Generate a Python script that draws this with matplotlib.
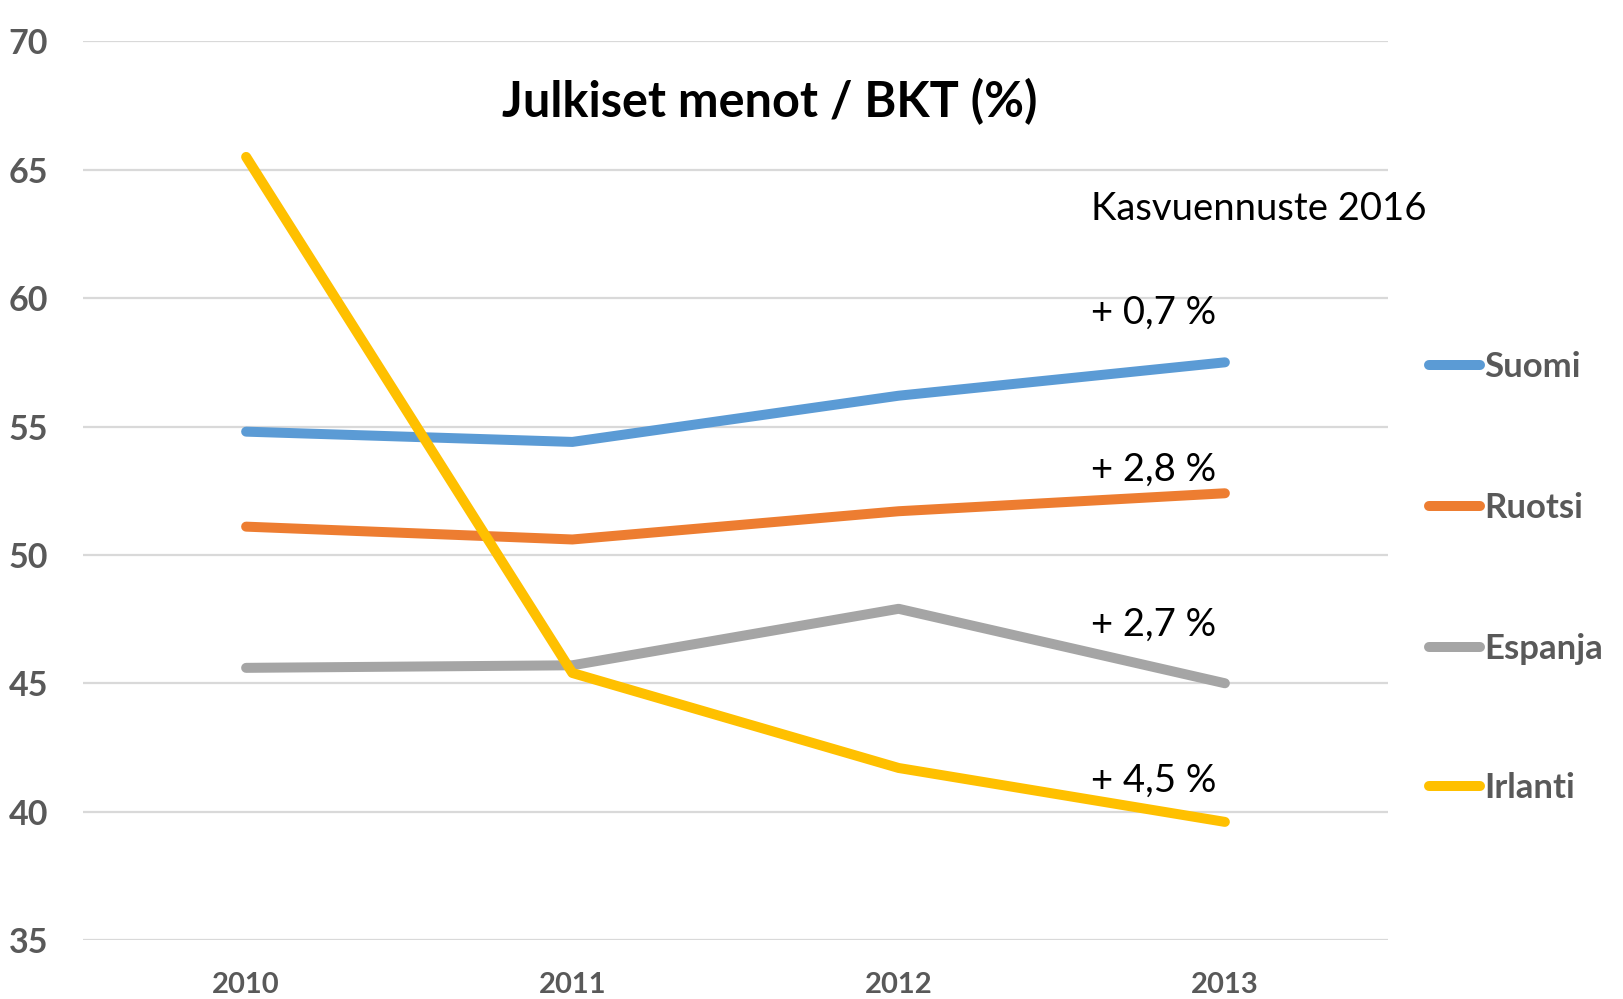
import matplotlib
matplotlib.use("Agg")
import matplotlib.pyplot as plt

plt.rcParams['font.family'] = ['Lato', 'DejaVu Sans']

years = ['2010', '2011', '2012', '2013']
suomi = [54.8, 54.4, 56.2, 57.5]
ruotsi = [51.1, 50.6, 51.7, 52.4]
espanja = [45.6, 45.7, 47.9, 45.0]
irlanti = [65.5, 45.4, 41.7, 39.6]
series_names = ['Suomi', 'Ruotsi', 'Espanja', 'Irlanti']
forecasts = ['+ 0,7 %', '+ 2,8 %', '+ 2,7 %', '+ 4,5 %']
yticks = [35, 40, 45, 50, 55, 60, 65, 70]

colors = ['#5B9BD5', '#ED7D31', '#A5A5A5', '#FFC000']
W, H = 1624, 999
fig = plt.figure(figsize=(W / 100, H / 100), dpi=100)
ax = fig.add_axes([83 / W, 1 - 940 / H, (1388 - 83) / W, (940 - 41.4) / H])

x = list(range(len(years)))
all_series = [suomi, ruotsi, espanja, irlanti]
for s, c in zip(all_series, colors):
    ax.plot(x, s, color=c, lw=7.2, solid_capstyle='round', solid_joinstyle='round', zorder=3)

ax.set_xlim(-0.5, 3.5)
ax.set_ylim(35, 70)
ax.set_yticks(yticks)
ax.set_xticks(x)
ax.set_xticklabels(years)
ax.grid(axis='y', color='#D9D9D9', lw=1.6)
ax.set_axisbelow(True)
for sp in ax.spines.values():
    sp.set_visible(False)
ax.tick_params(length=0)
ax.tick_params(axis='y', pad=25, labelsize=24.5, labelcolor='#595959')
ax.tick_params(axis='x', pad=23, labelsize=21, labelcolor='#595959')
for lab in ax.get_xticklabels() + ax.get_yticklabels():
    lab.set_fontweight('bold')

def ft(px, py, s, **kw):
    fig.text(px / W, 1 - py / H, s, **kw)

ft(770, 102, 'Julkiset menot / BKT (%)', ha='center', va='center', fontsize=35, fontweight='bold', color='black')
ft(1091, 209, 'Kasvuennuste 2016', ha='left', va='center', fontsize=27.5, color='black')
for txt, py in zip(forecasts, [313, 470, 625, 781]):
    ft(1091, py, txt, ha='left', va='center', fontsize=27.5, color='black')

leg_y = [365, 506, 647, 786]
for name, c, py in zip(series_names, colors, leg_y):
    fig.add_artist(plt.Line2D([1429 / W, 1480 / W], [1 - py / H, 1 - py / H], color=c, lw=7.2,
                              solid_capstyle='round', transform=fig.transFigure))
    ft(1484, py + 2, name, ha='left', va='center', fontsize=25, fontweight='bold', color='#595959')

fig.savefig('out.png', dpi=100, facecolor='white')
